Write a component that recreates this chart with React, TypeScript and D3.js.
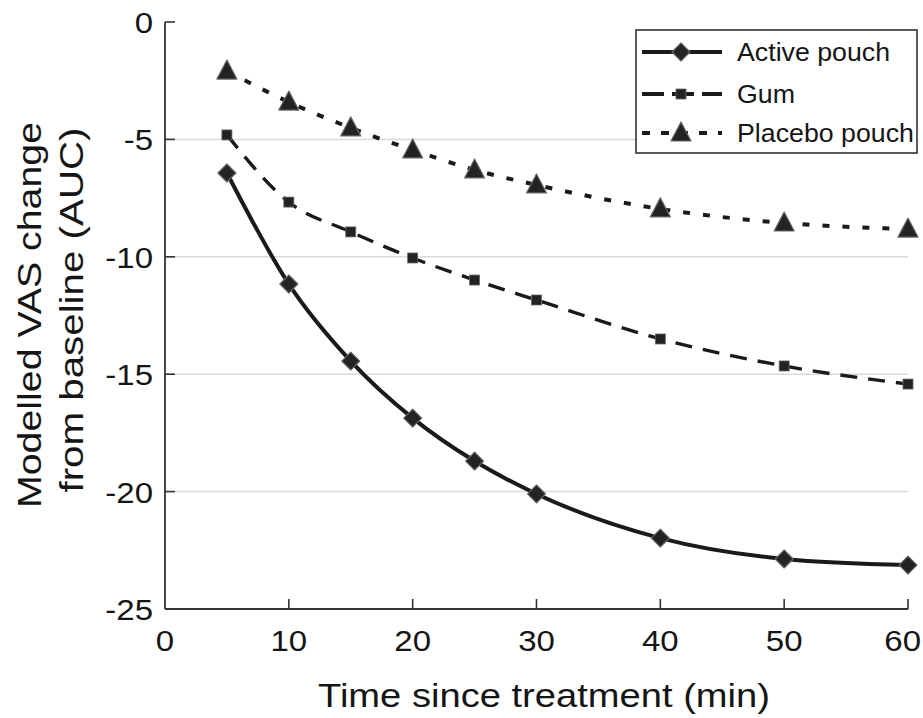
import React from "react";
import * as d3 from "d3";

const times = [5, 10, 15, 20, 25, 30, 40, 50, 60];
const activePouch = [-6.43, -11.16, -14.44, -16.87, -18.7, -20.1, -21.98, -22.87, -23.13];
const gum = [-4.81, -7.67, -8.94, -10.05, -10.99, -11.84, -13.5, -14.65, -15.42];
const placeboPouch = [-2.09, -3.41, -4.51, -5.45, -6.3, -6.94, -7.96, -8.56, -8.82];
const xTicks = [0, 10, 20, 30, 40, 50, 60];
const yTicks = [0, -5, -10, -15, -20, -25];
const seriesNames = ["Active pouch", "Gum", "Placebo pouch"];

const W = 923;
const H = 718;
const FONT = "'Liberation Sans', Arial, Helvetica, sans-serif";
const INK = "#151515";

const x = d3.scaleLinear().domain([0, 60]).range([165, 908]);
const y = d3.scaleLinear().domain([-25, 0]).range([609, 22]);

type Kind = "diamond" | "square" | "triangle";

function Marker({ kind, cx, cy }: { kind: Kind; cx: number; cy: number }) {
  if (kind === "diamond") {
    const s = 9;
    return (
      <path
        d={`M${cx},${cy - s}L${cx + s},${cy}L${cx},${cy + s}L${cx - s},${cy}Z`}
        fill="#232323"
        stroke="#666"
        strokeWidth={1.2}
        strokeLinejoin="round"
      />
    );
  }
  if (kind === "square") {
    const s = 5;
    return <rect x={cx - s} y={cy - s} width={2 * s} height={2 * s} fill="#232323" stroke="#666" strokeWidth={0.8} />;
  }
  const w = 10;
  return (
    <path
      d={`M${cx},${cy - 11}L${cx + w},${cy + 8}L${cx - w},${cy + 8}Z`}
      fill="#232323"
      stroke="#666"
      strokeWidth={1.2}
      strokeLinejoin="round"
    />
  );
}

function SText({
  tx,
  ty,
  rot = 0,
  sx = 1.1,
  size,
  anchor = "middle",
  children,
}: {
  tx: number;
  ty: number;
  rot?: number;
  sx?: number;
  size: number;
  anchor?: string;
  children: React.ReactNode;
}) {
  return (
    <text
      transform={`translate(${tx},${ty}) rotate(${rot}) scale(${sx},1)`}
      fontFamily={FONT}
      fontSize={size}
      fill={INK}
      textAnchor={anchor as any}
    >
      {children}
    </text>
  );
}

export default function App() {
  const line = d3
    .line<number>()
    .x((_, i) => x(times[i]))
    .y((v) => y(v))
    .curve(d3.curveMonotoneX);

  const series = [
    { name: seriesNames[0], values: activePouch, kind: "diamond" as Kind, dash: "none", width: 4 },
    { name: seriesNames[1], values: gum, kind: "square" as Kind, dash: "17 11", width: 3.4 },
    { name: seriesNames[2], values: placeboPouch, kind: "triangle" as Kind, dash: "7 13", width: 4 },
  ];

  const legendRows = [52, 94, 133];
  const legendDash = ["none", "22 8", "8 11"];

  return (
    <svg width={W} height={H} style={{ position: "absolute", left: 0, top: 0, background: "#fff" }}>
      {/* grid */}
      {yTicks
        .filter((t) => t !== 0 && t !== -25)
        .map((t) => (
          <line key={"g" + t} x1={x(0)} x2={x(60)} y1={y(t)} y2={y(t)} stroke="#d9d9d9" strokeWidth={1.5} />
        ))}
      {/* y ticks */}
      {yTicks.map((t) => (
        <g key={"yt" + t}>
          <line x1={x(0)} x2={x(0) + 10} y1={y(t)} y2={y(t)} stroke="#333" strokeWidth={1.6} />
          <SText tx={153} ty={y(t) + 11} size={30} anchor="end">
            {t}
          </SText>
        </g>
      ))}
      {/* x ticks */}
      {xTicks.map((t) => (
        <g key={"xt" + t}>
          {t !== 0 && <line x1={x(t)} x2={x(t)} y1={y(-25)} y2={y(-25) - 10} stroke="#333" strokeWidth={1.6} />}
          <SText tx={t === 60 ? 921 : x(t)} ty={651} size={30} anchor={t === 60 ? "end" : "middle"}>
            {t}
          </SText>
        </g>
      ))}
      {/* axes */}
      <line x1={x(0)} x2={x(0)} y1={y(0)} y2={y(-25)} stroke="#333" strokeWidth={1.8} />
      <line x1={x(0)} x2={x(60)} y1={y(-25)} y2={y(-25)} stroke="#333" strokeWidth={1.8} />

      {/* series */}
      {series.map((s) => (
        <g key={s.name}>
          <path d={line(s.values) || ""} fill="none" stroke="#1a1a1a" strokeWidth={s.width} strokeDasharray={s.dash} />
          {s.values.map((v, i) => (
            <Marker key={i} kind={s.kind} cx={x(times[i])} cy={y(v)} />
          ))}
        </g>
      ))}

      {/* legend */}
      <rect x={636} y={30} width={281} height={123} fill="#fff" stroke="#333" strokeWidth={1.6} />
      {series.map((s, i) => (
        <g key={"lg" + s.name}>
          <line
            x1={642}
            x2={722}
            y1={legendRows[i]}
            y2={legendRows[i]}
            stroke="#1a1a1a"
            strokeWidth={4}
            strokeDasharray={legendDash[i]}
          />
          <Marker kind={s.kind} cx={681} cy={legendRows[i]} />
          <SText tx={737} ty={legendRows[i] + 9} size={25} sx={1.07} anchor="start">
            {s.name}
          </SText>
        </g>
      ))}

      {/* axis titles */}
      <text
        x={544}
        y={707}
        fontFamily={FONT}
        fontSize={34}
        fill={INK}
        textAnchor="middle"
        textLength={452}
        lengthAdjust="spacingAndGlyphs"
      >
        Time since treatment (min)
      </text>
      <text
        transform="translate(41,315) rotate(-90)"
        fontFamily={FONT}
        fontSize={33}
        fill={INK}
        textAnchor="middle"
        textLength={386}
        lengthAdjust="spacingAndGlyphs"
      >
        Modelled VAS change
      </text>
      <text
        transform="translate(83,310) rotate(-90)"
        fontFamily={FONT}
        fontSize={33}
        fill={INK}
        textAnchor="middle"
        textLength={365}
        lengthAdjust="spacingAndGlyphs"
      >
        from baseline (AUC)
      </text>
    </svg>
  );
}
